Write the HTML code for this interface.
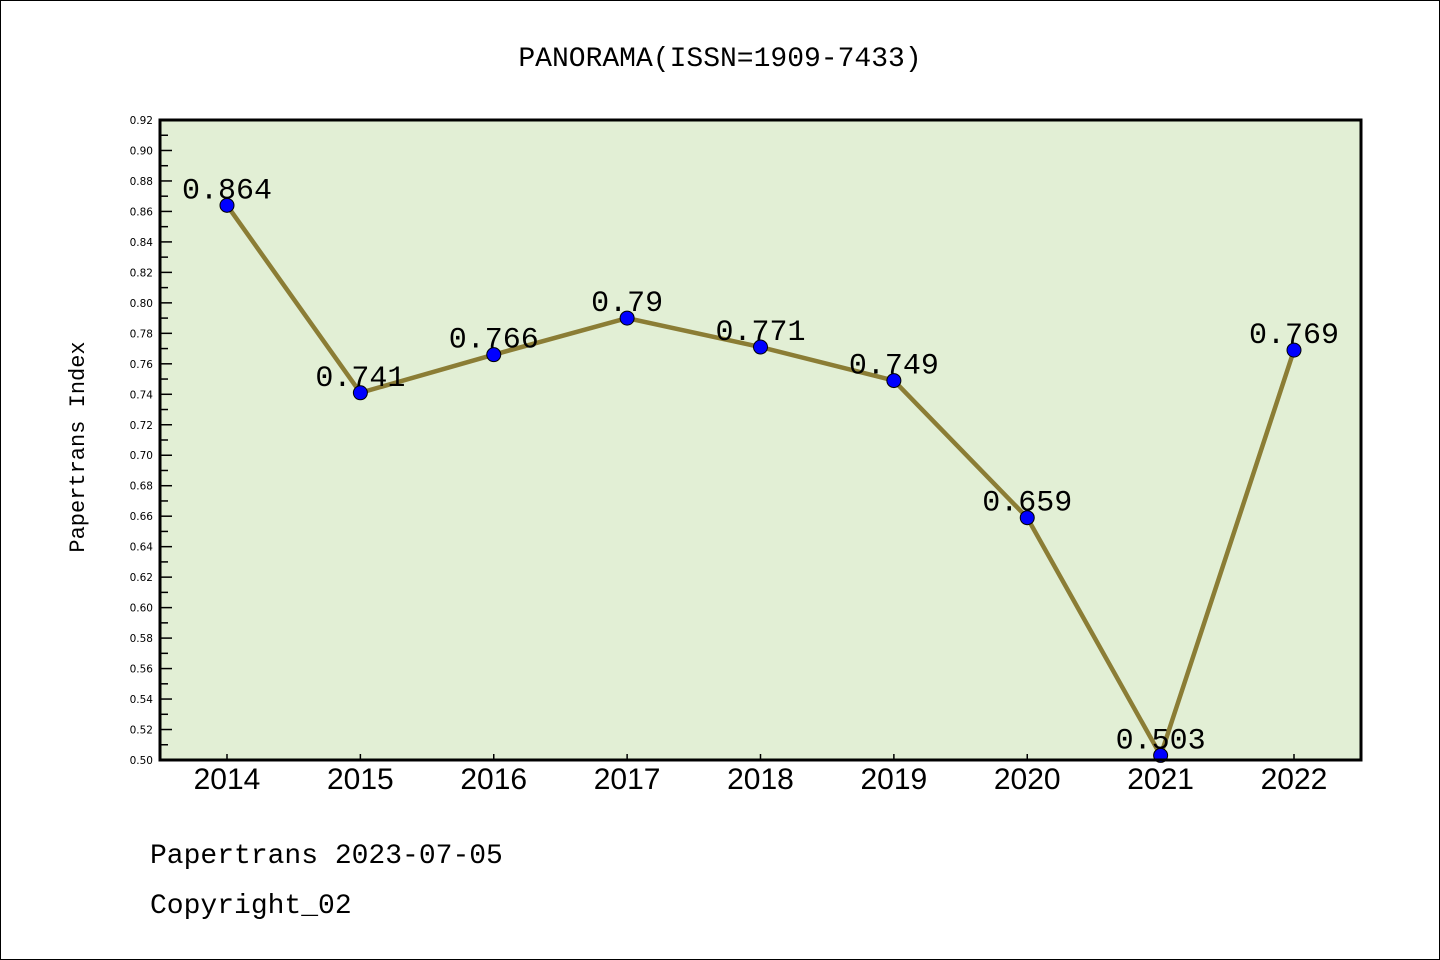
<!DOCTYPE html>
<html><head><meta charset="utf-8"><style>
body{margin:0;background:#fff}
svg{display:block}
text{font-family:"Liberation Sans","WenQuanYi Zen Hei",sans-serif}
text.m{font-family:"WenQuanYi Zen Hei Mono","Liberation Mono",monospace}
text.t{font-family:"DejaVu Sans","Liberation Sans",sans-serif}
</style></head><body>
<svg id="c" width="1440" height="960">
<rect x="0.5" y="0.5" width="1439" height="959" fill="#fff" stroke="#000"/>
<text class="m" x="720" y="66" font-size="28" text-anchor="middle">PANORAMA(ISSN=1909-7433)</text>
<text class="m" transform="translate(84,447) rotate(-90)" font-size="22" text-anchor="middle">Papertrans Index</text>
<text class="m" x="150" y="863" font-size="28">Papertrans 2023-07-05</text>
<text class="m" x="150" y="913" font-size="28">Copyright_02</text>
<g id="g"></g>
</svg>
<script>
const categories=["2014","2015","2016","2017","2018","2019","2020","2021","2022"];
const values=[0.864,0.741,0.766,0.79,0.771,0.749,0.659,0.503,0.769];
const labels=["0.864","0.741","0.766","0.79","0.771","0.749","0.659","0.503","0.769"];
const yTicks=[0.50,0.52,0.54,0.56,0.58,0.60,0.62,0.64,0.66,0.68,0.70,0.72,0.74,0.76,0.78,0.80,0.82,0.84,0.86,0.88,0.90,0.92];
const L=160,R=1361,T=120,B=760,yMin=0.5,yMax=0.92;
const y=v=>B-(v-yMin)/(yMax-yMin)*(B-T);
const x=i=>227+i*(1294-227)/(categories.length-1);
const g=document.getElementById('g');const NS='http://www.w3.org/2000/svg';
function mk(t,a,p){const e=document.createElementNS(NS,t);for(const k in a)e.setAttribute(k,a[k]);(p||g).appendChild(e);return e;}
const bg=mk('rect',{x:L,y:T,width:R-L,height:B-T,fill:'#e2efd5'});


yTicks.forEach((v,i)=>{
 const yy=y(v);
 const tk=mk('line',{x1:L,x2:L+12,y1:yy,y2:yy,stroke:'#000','stroke-width':1.5});
 
 
 if(i<yTicks.length-1){const m=mk('line',{x1:L,x2:L+8,y1:(yy+y(yTicks[i+1]))/2,y2:(yy+y(yTicks[i+1]))/2,stroke:'#000','stroke-width':1.5});
 
 }
 const t=mk('text',{x:153,y:yy+4,'font-size':10.5,'text-anchor':'end','class':'t'});t.textContent=v.toFixed(2);
 
 
});
categories.forEach((c,i)=>{
 const tk=mk('line',{x1:x(i),x2:x(i),y1:B,y2:B-6,stroke:'#000','stroke-width':1.5});
 
 
 const t=mk('text',{x:x(i),y:789,'font-size':30,'text-anchor':'middle'});t.textContent=c;
 
 
});
const ln=mk('polyline',{points:values.map((v,i)=>x(i)+','+y(v)).join(' '),fill:'none',stroke:'#8b7d35','stroke-width':4.5});


values.forEach((v,i)=>{
 const p=mk('circle',{cx:x(i),cy:y(v),r:7,fill:'#0000ff',stroke:'#000','stroke-width':1});
 
 
 const t=mk('text',{x:x(i),y:y(v)-7,'font-size':30,'text-anchor':'middle','class':'m'});t.textContent=labels[i];
 
 
});
const bd=mk('rect',{x:L,y:T,width:R-L,height:B-T,fill:'none',stroke:'#000','stroke-width':3});


</script>
</body></html>
